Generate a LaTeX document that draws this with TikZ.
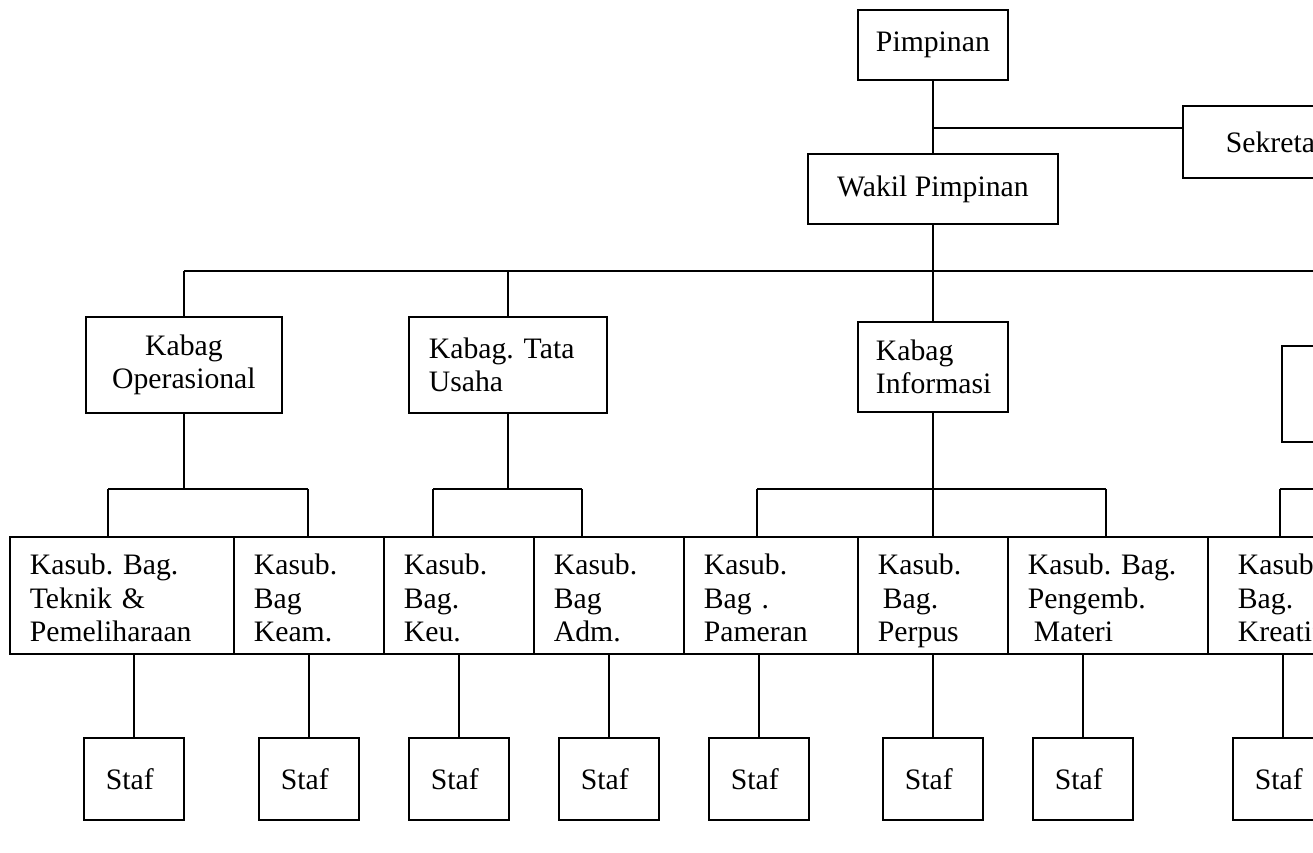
\documentclass[tikz,border=0pt]{standalone}
\usepackage{fontspec}
\setmainfont{Liberation Serif}
\frenchspacing
\newcommand{\kst}{\rule{0pt}{26pt}}
\newcommand{\nodp}[1]{\raisebox{0pt}[\height][0pt]{#1}}
\begin{document}
\begin{tikzpicture}[x=1pt,y=-1pt,
  line width=1.8pt,
  txt/.style={font=\fontsize{29.7}{33.5}\selectfont\frenchspacing\hyphenpenalty 10000 },
  box/.style={draw, txt, inner ysep=0pt, anchor=north west},
  cbox/.style={box, inner xsep=0pt, align=center},
  lbox/.style={box, inner xsep=20pt, align=left},
  kasub/.style={lbox, minimum height=117pt},
  staf/.style={lbox, inner xsep=22pt, text width=56pt, minimum height=82pt},
]
\useasboundingbox (0,0) rectangle (1313,852);
\clip (0,0) rectangle (1313,852);

% top levels
\node[cbox, minimum width=150pt, minimum height=70pt] (pim) at (857,9) {Pimpinan};
\node[lbox, inner xsep=43pt, text width=160pt, minimum height=72pt] (sek) at (1182,105) {Sekretaris};
\node[cbox, minimum width=250pt, minimum height=70pt] (wak) at (807,153) {Wakil Pimpinan};

% kabag level
\node[cbox, minimum width=196pt, minimum height=96pt] (kop) at (85,316) {Kabag\\Operasional};
\node[lbox, text width=158pt, minimum height=96pt] (ktu) at (408,316) {Kabag. Tata\\Usaha};
\node[lbox, inner xsep=18pt, text width=114pt, minimum height=90pt] (kin) at (857,321) {Kabag\\Informasi};
\node[box, minimum width=200pt, minimum height=96pt] (kkr) at (1281,345) {};

% kasub level
\node[kasub, text width=184pt] (k1) at (9,536) {\kst Kasub. Bag.\\Teknik \&\\Pemeliharaan};
\node[kasub, text width=110pt] (k2) at (233,536) {\kst Kasub.\\Bag\\Keam.};
\node[kasub, text width=110pt] (k3) at (383,536) {\kst Kasub.\\Bag.\\Keu.};
\node[kasub, text width=110pt] (k4) at (533,536) {\kst Kasub.\\Bag\\Adm.};
\node[kasub, text width=134pt] (k5) at (683,536) {\kst Kasub.\\Bag .\\Pameran};
\node[kasub, text width=110pt] (k6) at (857,536) {\kst Kasub.\\\hspace*{5pt}Bag.\\\nodp{Perpus}};
\node[kasub, text width=160pt] (k7) at (1007,536) {\kst Kasub. Bag.\\Pengemb.\\\hspace*{6pt}Materi};
\node[kasub, inner xsep=30pt, text width=140pt] (k8) at (1207,536) {\kst Kasub.\\Bag.\\Kreatif};

% staf level
\node[staf] (s1) at (83,737) {Staf};
\node[staf] (s2) at (258,737) {Staf};
\node[staf] (s3) at (408,737) {Staf};
\node[staf] (s4) at (558,737) {Staf};
\node[staf] (s5) at (708,737) {Staf};
\node[staf] (s6) at (882,737) {Staf};
\node[staf] (s7) at (1032,737) {Staf};
\node[staf] (s8) at (1232,737) {Staf};

% connectors top
\draw (pim.south -| wak.north) -- (wak.north);
\coordinate (j1) at (932,128);
\draw (j1) -- (j1 -| sek.west);

% main bus
\coordinate (yA) at (0,271);
\coordinate (yB) at (0,489);
\coordinate (aEnd) at (kkr.north |- yA);
\draw (wak.south) -- (wak.south |- yA);
\draw (kop.north |- yA) -- (aEnd) -- (kkr.north);
\draw (kop.north |- yA) -- (kop.north);
\draw (ktu.north |- yA) -- (ktu.north);
\draw (kin.north |- yA) -- (kin.north);

% group operasional
\coordinate (d1) at (108,489);
\coordinate (d2) at (308,489);
\draw (kop.south) -- (kop.south |- yB);
\draw (d1) -- (d2);
\draw (d1) -- (d1 |- k1.north);
\draw (d2) -- (d2 |- k2.north);

% group tata usaha
\coordinate (d3) at (433,489);
\coordinate (d4) at (582,489);
\draw (ktu.south) -- (ktu.south |- yB);
\draw (d3) -- (d4);
\draw (d3) -- (d3 |- k3.north);
\draw (d4) -- (d4 |- k4.north);

% group informasi
\coordinate (d5) at (757,489);
\coordinate (d7) at (1106,489);
\draw (kin.south) -- (kin.south |- k6.north);
\draw (d5) -- (d7);
\draw (d5) -- (d5 |- k5.north);
\draw (d7) -- (d7 |- k7.north);

% group right
\coordinate (d8) at (1280,489);
\draw (kkr.south) -- (kkr.south |- yB);
\draw (d8) -- (kkr.south |- yB);
\draw (d8) -- (d8 |- k8.north);

% staf connectors
\foreach \s/\k in {s1/k1,s2/k2,s3/k3,s4/k4,s5/k5,s6/k6,s7/k7,s8/k8}
  \draw (\s.north) -- (\s.north |- \k.south);
\end{tikzpicture}
\end{document}
